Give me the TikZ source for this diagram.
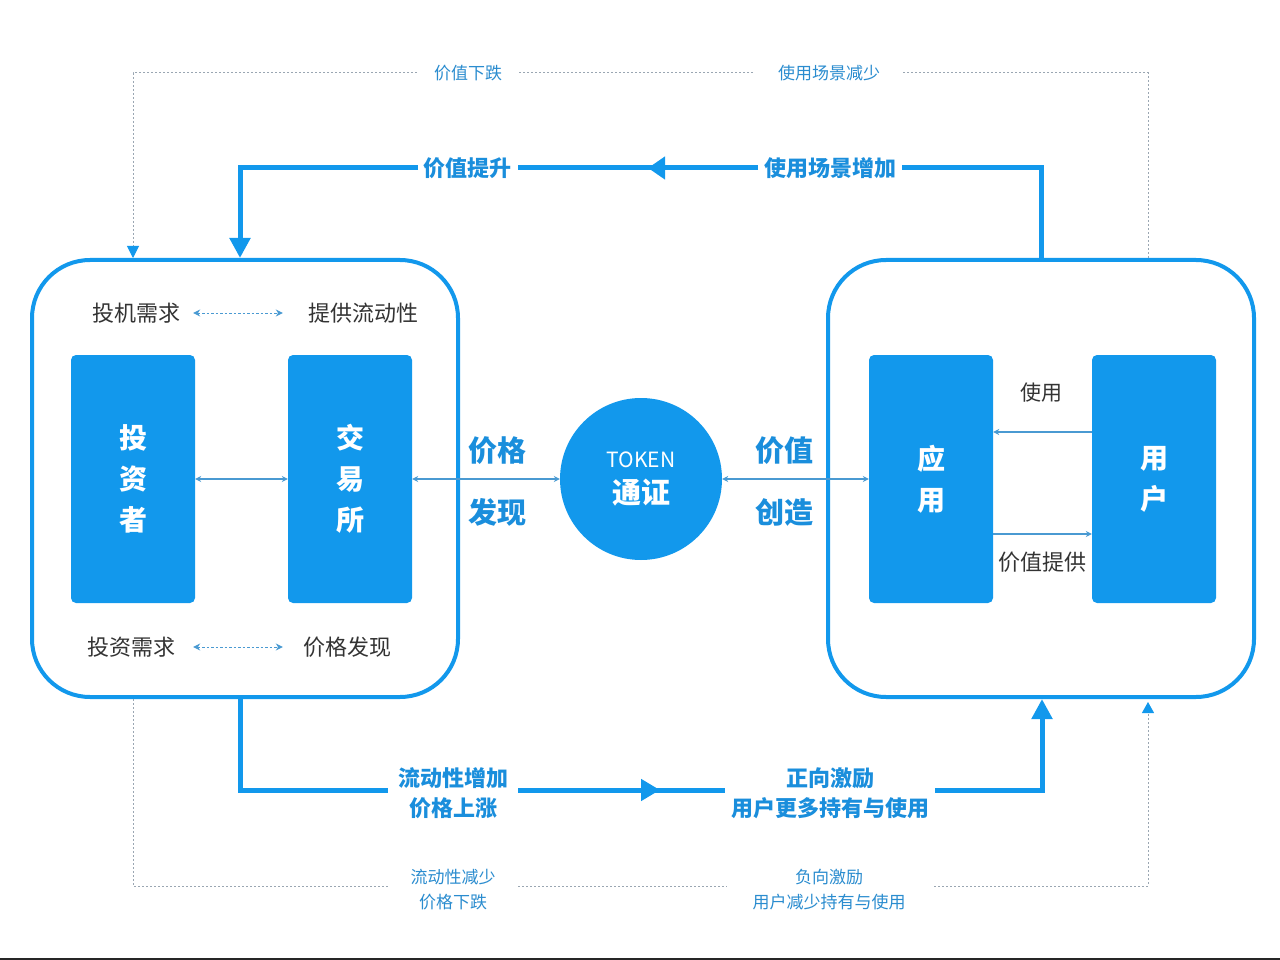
\documentclass[tikz,border=0pt]{standalone}
\usepackage{fontspec}
\setmainfont{Noto Sans CJK SC}
\usetikzlibrary{arrows.meta,decorations.markings}
\definecolor{cBlue}{HTML}{1298EC}
\definecolor{cLab}{HTML}{1A8EDC}
\definecolor{cLabLt}{HTML}{2A8CCF}
\definecolor{cThin}{HTML}{4A9AD2}
\definecolor{cDot}{HTML}{9AA6B2}
\definecolor{cGray}{HTML}{333333}
\tikzset{
 bigbox/.style={draw=cBlue, line width=4pt, rounded corners=58pt, minimum width=426pt, minimum height=437pt, inner sep=0pt},
 blk/.style={fill=cBlue, rounded corners=5pt, minimum width=124pt, minimum height=248pt, inner sep=0pt, text=white, align=center, font=\fontsize{28}{41}\selectfont\bfseries},
 tokcirc/.style={circle, fill=cBlue, minimum size=162pt, inner sep=0pt, text=white, align=center, font=\fontsize{21}{36}\selectfont},
 graytxt/.style={text=cGray, inner sep=0pt, font=\fontsize{22}{26}\selectfont},
 biglab/.style={text=cLab, inner sep=0pt, align=center, font=\fontsize{29}{62}\selectfont\bfseries},
 thinarrow/.style={draw=cThin, line width=1.1pt, {Stealth[length=6pt,width=6pt]}-{Stealth[length=6pt,width=6pt]}},
 thinone/.style={draw=cThin, line width=1.1pt, -{Stealth[length=6pt,width=6pt]}},
 dotarrow/.style={draw=cThin, line width=1pt, dash pattern=on 2.5pt off 2pt, {Stealth[length=7pt,width=7pt]}-{Stealth[length=7pt,width=7pt]}},
 loopline/.style={draw=cBlue, line width=5pt},
 dotloop/.style={draw=cDot, line width=1pt, dash pattern=on 2pt off 2pt},
 flowlab/.style={fill=white, text=cLab, align=center, inner ysep=2pt, font=\fontsize{22}{30}\selectfont\bfseries},
 dotlab/.style={fill=white, text=cLabLt, align=center, inner ysep=2pt, font=\fontsize{17}{25}\selectfont},
}
\begin{document}
\begin{tikzpicture}[x=1pt,y=-1pt]
\useasboundingbox (0,0) rectangle (1280,960);

% big frames
\node[bigbox] (L) at (245,478.5) {};
\node[bigbox] (R) at (1041,478.5) {};

% blocks
\node[blk] (inv) at (133,479) {投\\资\\者};
\node[blk] (exc) at (350,479) {交\\易\\所};
\node[blk] (app) at (931,479) {应\\用};
\node[blk] (usr) at (1154,479) {用\\户};
\node[tokcirc] (tok) at (641,479) {TOKEN\\{\fontsize{29}{36}\selectfont\bfseries 通证}};

% big labels
\node[biglab] (pf) at (497,481) {价格\\发现};
\node[biglab] (vc) at (784,481) {价值\\创造};

% thin arrows
\draw[thinarrow] (inv.east) -- (exc.west);
\draw[thinarrow] (exc.east) -- (tok.west);
\draw[thinarrow] (tok.east) -- (app.west);
\coordinate (ya) at (0,432);
\coordinate (yb) at (0,534);
\draw[thinone] (usr.west |- ya) -- (app.east |- ya);
\draw[thinone] (app.east |- yb) -- (usr.west |- yb);
\node[graytxt, font=\fontsize{21}{24}\selectfont] (use) at (1041,393) {使用};
\node[graytxt] (prov) at (1042,562) {价值提供};

% inner texts left
\node[graytxt] (t1) at (136,313) {投机需求};
\node[graytxt] (t2) at (363,313) {提供流动性};
\node[graytxt] (t3) at (131.5,647) {投资需求};
\node[graytxt] (t4) at (347,647) {价格发现};
\draw[dotarrow, shorten <=-2pt, shorten >=5pt] (inv.east |- t1) -- (exc.west |- t1);
\draw[dotarrow, shorten <=-2pt, shorten >=5pt] (inv.east |- t3) -- (exc.west |- t3);

% loop coordinates
\coordinate (tr) at (1041,168);
\coordinate (tl) at (240,168);
\coordinate (bl) at (240,790);
\coordinate (br) at (1042,790);
\coordinate (dtr) at (1148,73);
\coordinate (dtl) at (133,73);
\coordinate (dbl) at (133,886);
\coordinate (dbr) at (1148,886);

% thick loops
\draw[loopline, -{Triangle[length=20pt,width=20pt]},
  postaction={decorate},
  decoration={markings, mark=at position 483pt with {\arrow{Triangle[length=17pt,width=22pt]}}}]
  (R.north) -- (tr) -- (tl) -- (L.north -| tl);
\draw[loopline, -{Triangle[length=20pt,width=20pt]},
  postaction={decorate},
  decoration={markings, mark=at position 511pt with {\arrow{Triangle[length=19pt,width=21pt]}}}]
  (L.south -| bl) -- (bl) -- (br) -- (R.south -| br);

% dotted loops
\draw[dotloop, -{Triangle[length=12pt,width=12pt,color=cBlue]}] (R.north -| dtr) -- (dtr) -- (dtl) -- (L.north -| dtl);
\draw[dotloop, -{Triangle[length=11pt,width=12pt,color=cBlue]}, shorten >=3pt] (L.south -| dbl) -- (dbl) -- (dbr) -- (R.south -| dbr);

% loop labels
\node[flowlab, inner xsep=6pt] (l1) at (467.5,168) {价值提升};
\node[flowlab, inner xsep=6pt] (l2) at (830,168) {使用场景增加};
\node[flowlab, inner xsep=10pt] (l3) at (453,793) {流动性增加\\价格上涨};
\node[flowlab, inner xsep=6pt] (l4) at (830,793) {正向激励\\用户更多持有与使用};
\node[dotlab, inner xsep=16pt] (d1) at (468,73) {价值下跌};
\node[dotlab, inner xsep=23pt] (d2) at (829,73) {使用场景减少};
\node[dotlab, inner xsep=22pt] (d3) at (453,889.5) {流动性减少\\价格下跌};
\node[dotlab, inner xsep=26pt] (d4) at (829,889.5) {负向激励\\用户减少持有与使用};

% bottom edge line
\coordinate (e1) at (0,959.2);
\coordinate (e2) at (1280,959.2);
\draw[line width=1.6pt, black!85] (e1) -- (e2);
\end{tikzpicture}
\end{document}
